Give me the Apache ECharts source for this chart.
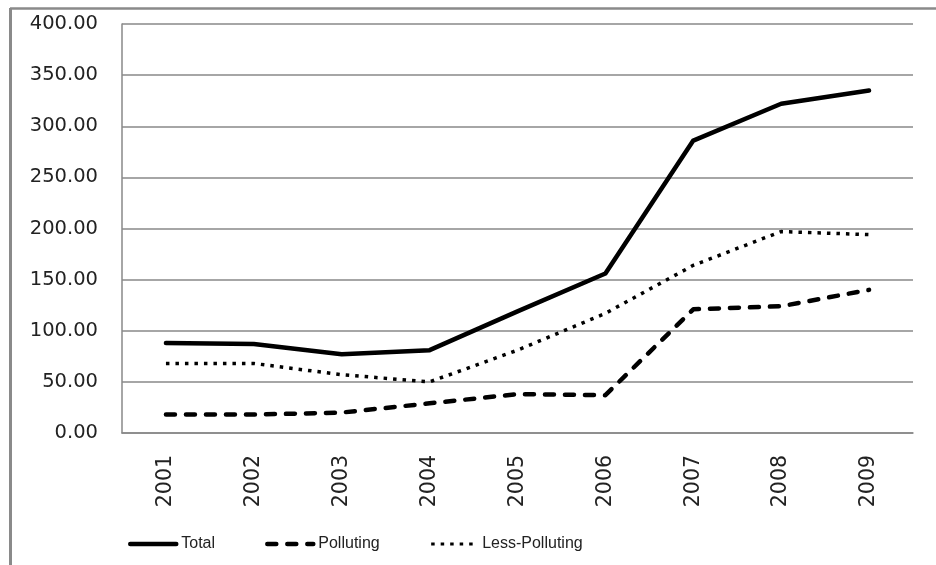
<!DOCTYPE html>
<html>
<head>
<meta charset="utf-8">
<script src="https://cdn.jsdelivr.net/npm/echarts@6/dist/echarts.min.js"></script>
<style>html,body{margin:0;padding:0;background:#fff}#c{width:936px;height:565px}</style>
</head>
<body>
<div id="c"></div>
<script>
const years = ['2001','2002','2003','2004','2005','2006','2007','2008','2009'];
const total = [88, 87, 77, 81, 119, 156, 286, 322, 335];
const polluting = [18, 18, 20, 29, 38, 37, 121, 124, 140];
const lessPolluting = [68, 68, 57, 50, 81, 117, 164, 197, 194];
const yTicks = {min: 0, max: 400, interval: 50};

const chart = echarts.init(document.getElementById('c'));
chart.setOption({
  animation: false,
  backgroundColor: '#fff',
  graphic: [
    {type: 'line', shape: {x1: 10, y1: 8.5, x2: 936, y2: 8.5}, style: {stroke: '#8a8a8a', lineWidth: 2.5}},
    {type: 'line', shape: {x1: 10.5, y1: 8, x2: 10.5, y2: 565}, style: {stroke: '#8a8a8a', lineWidth: 3}}
  ],
  grid: {left: 122, right: 23, top: 24, bottom: 132},
  xAxis: {
    type: 'category',
    data: years,
    boundaryGap: true,
    axisLine: {lineStyle: {color: '#888', width: 1.5}},
    axisTick: {show: false},
    axisLabel: {rotate: 90, margin: 22, fontFamily: 'DejaVu Sans', fontSize: 20.5, color: '#222'}
  },
  yAxis: {
    type: 'value',
    min: yTicks.min, max: yTicks.max, interval: yTicks.interval,
    axisLine: {show: true, lineStyle: {color: '#888', width: 1.5}},
    axisTick: {show: false},
    splitLine: {lineStyle: {color: '#888', width: 1.5}},
    axisLabel: {margin: 24, fontFamily: 'DejaVu Sans', fontSize: 19.5, color: '#222',
      formatter: v => v.toFixed(2)}
  },
  legend: {
    left: 123, top: 531,
    itemWidth: 46, itemHeight: 14, itemGap: 50,
    itemStyle: {opacity: 0},
    textStyle: {fontFamily: 'Liberation Sans', fontSize: 16, color: '#222'},
    data: [
      {name: 'Total', lineStyle: {width: 4.5}},
      {name: 'Polluting', lineStyle: {width: 4.5}},
      {name: 'Less-Polluting', lineStyle: {width: 3}}
    ]
  },
  series: [
    {name: 'Total', type: 'line', data: total, symbol: 'none',
      lineStyle: {color: '#000', width: 4.5, cap: 'round', join: 'round'}, itemStyle: {color: '#000'}},
    {name: 'Polluting', type: 'line', data: polluting, symbol: 'none',
      lineStyle: {color: '#000', width: 4.5, type: [9, 11], cap: 'round', join: 'round'}, itemStyle: {color: '#000'}},
    {name: 'Less-Polluting', type: 'line', data: lessPolluting, symbol: 'none',
      lineStyle: {color: '#000', width: 3.5, type: [3.5, 6], cap: 'butt', join: 'round'}, itemStyle: {color: '#000'}}
  ]
});
</script>
</body>
</html>
